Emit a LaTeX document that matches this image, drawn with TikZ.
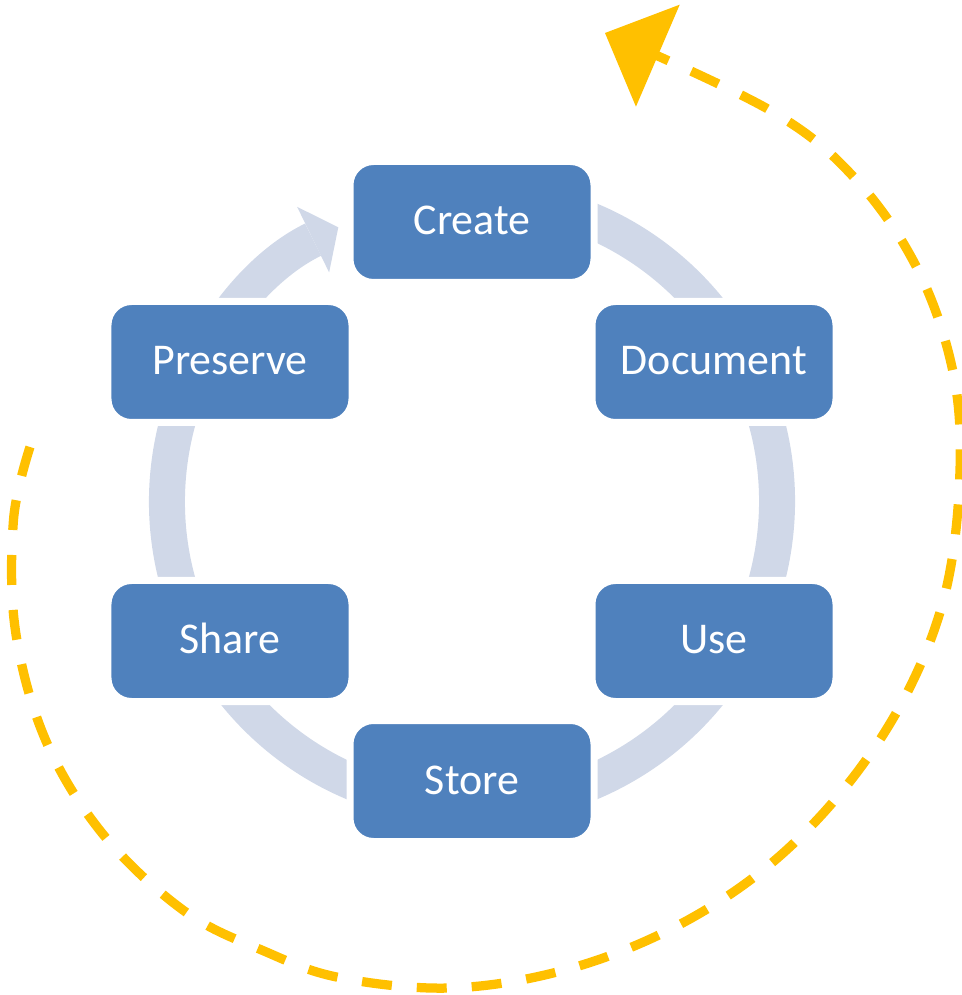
\documentclass[tikz,border=0pt]{standalone}
\usepackage{fontspec}
\setmainfont{Carlito}
\usetikzlibrary{arrows.meta}
\definecolor{stageblue}{RGB}{79,129,189}
\definecolor{ringgrey}{RGB}{208,216,232}
\definecolor{loopyellow}{RGB}{255,192,0}

\begin{document}
\begin{tikzpicture}[
        stage/.style={shape=rectangle, rounded corners=0.47cm, fill=stageblue, draw=white,
            line width=0.14cm, minimum width=4.88cm, minimum height=2.42cm, inner sep=0pt,
            text=white, font=\fontsize{25}{30}\selectfont, text height=0.62cm, text depth=0.1cm},
        ring/.style={ringgrey, line width=0.72cm},
        outer loop/.style={loopyellow, line width=0.185cm, dash pattern=on 0.6cm off 0.5cm}
    ]
        \useasboundingbox (-9.44,-9.87) rectangle (9.78,10.03);

        % inner cycle
        \draw [ring, -{Triangle[length=0.56cm, width=1.46cm, line width=0pt]}] (80:6.1) arc [start angle=80, end angle=-244, radius=6.1];

        \node[stage] (create) at (0,5.59) {Create};
        \node[stage] (document) at (4.84,2.79) {Document};
        \node[stage] (use) at (4.84,-2.79) {Use};
        \node[stage] (store) at (0,-5.59) {Store};
        \node[stage] (share) at (-4.84,-2.79) {Share};
        \node[stage] (preserve) at (-4.84,2.79) {Preserve};

        % outer loop
        \draw [outer loop, -{Triangle[length=1.15cm, width=2.22cm, line width=0pt]}] plot [smooth, tension=0.6] coordinates {
            (-8.84,1.09) (-9.17,-0.37) (-9.13,-2.59) (-8.52,-4.79) (-7.36,-6.68) (-5.74,-8.20)
            (-4.16,-8.99) (-2.66,-9.52) (-0.44,-9.73) (1.78,-9.39) (3.88,-8.60) (5.76,-7.42)
            (7.34,-5.87) (8.61,-4.00) (9.44,-1.93) (9.75,0.37) (9.64,2.49) (8.93,4.61)
            (7.67,6.45) (5.95,7.83) (2.66,9.37)};
    \end{tikzpicture}
\end{document}
